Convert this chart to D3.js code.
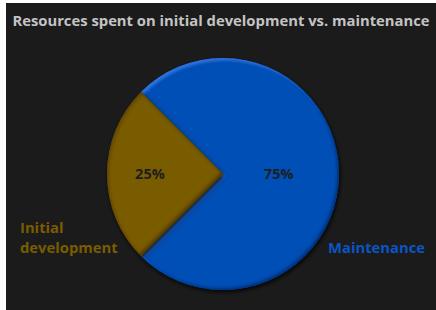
<!DOCTYPE html>
<html>
<head>
<meta charset="utf-8">
<script src="https://cdn.jsdelivr.net/npm/d3@7"></script>
<style>
  body { margin: 0; background: #fff; }
  svg text { font-family: "Open Sans", "DejaVu Sans", sans-serif; }
</style>
</head>
<body>
<div id="chart"></div>
<script>
// data
const categories = ['Maintenance', 'Initial development'];
const values = [75, 25];
const pctLabels = ['75%', '25%'];
const colors = ['#0050b6', '#7a5c00'];
const labelColors = ['#0a55c4', '#7a5c00'];
const rimColors = ['#3d8bff', '#000000'];

const width = 436, height = 310;
const cx = 223, cy = 174, radius = 116;

const svg = d3.select('#chart').append('svg')
  .attr('width', width)
  .attr('height', height);

// dark panel
svg.append('rect')
  .attr('x', 6).attr('y', 3)
  .attr('width', width - 6).attr('height', height - 3)
  .attr('fill', '#1b1b1b');

// bevel + shadow filter, one per slice (rim colour differs)
const defs = svg.append('defs');
function makeFilter(id, rim, rimOpacity) {
  const f = defs.append('filter').attr('id', id)
    .attr('x', '-10%').attr('y', '-10%').attr('width', '120%').attr('height', '120%');
  f.append('feGaussianBlur').attr('in', 'SourceAlpha').attr('stdDeviation', 2).attr('result', 'blur');
  f.append('feOffset').attr('in', 'blur').attr('dx', 1).attr('dy', 2).attr('result', 'dropOff');
  f.append('feFlood').attr('flood-color', '#000').attr('flood-opacity', 0.9).attr('result', 'black');
  f.append('feComposite').attr('in', 'black').attr('in2', 'dropOff').attr('operator', 'in').attr('result', 'drop');
  // top-left rim
  f.append('feGaussianBlur').attr('in', 'SourceAlpha').attr('stdDeviation', 1.5).attr('result', 'b2');
  f.append('feOffset').attr('in', 'b2').attr('dx', 2).attr('dy', 2).attr('result', 'b2o');
  f.append('feComposite').attr('in', 'SourceAlpha').attr('in2', 'b2o').attr('operator', 'arithmetic')
    .attr('k2', 1).attr('k3', -1).attr('result', 'hlMask');
  f.append('feFlood').attr('flood-color', rim).attr('flood-opacity', rimOpacity).attr('result', 'rimc');
  f.append('feComposite').attr('in', 'rimc').attr('in2', 'hlMask').attr('operator', 'in').attr('result', 'hl');
  // bottom-right dark rim
  f.append('feOffset').attr('in', 'b2').attr('dx', -2).attr('dy', -2).attr('result', 'b3o');
  f.append('feComposite').attr('in', 'SourceAlpha').attr('in2', 'b3o').attr('operator', 'arithmetic')
    .attr('k2', 1).attr('k3', -1).attr('result', 'shMask');
  f.append('feFlood').attr('flood-color', '#000').attr('flood-opacity', 0.6).attr('result', 'dark');
  f.append('feComposite').attr('in', 'dark').attr('in2', 'shMask').attr('operator', 'in').attr('result', 'sh');
  const merge = f.append('feMerge');
  ['drop', 'SourceGraphic', 'hl', 'sh'].forEach(n => merge.append('feMergeNode').attr('in', n));
}
makeFilter('bevel0', rimColors[0], 0.6);
makeFilter('bevel1', rimColors[1], 0.35);

// title
svg.append('text')
  .attr('x', 221).attr('y', 26)
  .attr('text-anchor', 'middle')
  .attr('font-size', 14.8)
  .attr('font-weight', 700)
  .attr('fill', '#c4c4c4')
  .text('Resources spent on initial development vs. maintenance');

const pie = d3.pie().sort(null).startAngle(-Math.PI / 4).endAngle(2 * Math.PI - Math.PI / 4);
const arcs = pie(values);
const arc = d3.arc().innerRadius(0).outerRadius(radius);

const g = svg.append('g').attr('transform', `translate(${cx},${cy})`);

g.selectAll('path.slice')
  .data(arcs)
  .join('path')
  .attr('class', 'slice')
  .attr('d', arc)
  .attr('fill', (d, i) => colors[i])
  .attr('filter', (d, i) => `url(#bevel${i})`);

// percentage labels inside
const labelRadius = [0.48, 0.63];
g.selectAll('text.pct')
  .data(arcs)
  .join('text')
  .attr('class', 'pct')
  .attr('transform', (d, i) => {
    const r = radius * labelRadius[i];
    const c = d3.arc().innerRadius(r).outerRadius(r).centroid(d);
    return `translate(${c[0]},${c[1]})`;
  })
  .attr('dy', '0.35em')
  .attr('text-anchor', 'middle')
  .attr('font-size', 14.5)
  .attr('font-weight', 700)
  .attr('fill', '#1e1e1e')
  .text((d, i) => pctLabels[i]);

// category labels outside
const catPos = [
  {x: 328, y: 253, lines: ['Maintenance']},
  {x: 20, y: 233, lines: ['Initial', 'development']}
];
categories.forEach((c, i) => {
  const t = svg.append('text')
    .attr('x', catPos[i].x).attr('y', catPos[i].y)
    .attr('font-size', 14.8)
    .attr('font-weight', 700)
    .attr('fill', labelColors[i]);
  catPos[i].lines.forEach((ln, j) => {
    t.append('tspan').attr('x', catPos[i].x).attr('dy', j === 0 ? 0 : 20).text(ln);
  });
});
</script>
</body>
</html>
